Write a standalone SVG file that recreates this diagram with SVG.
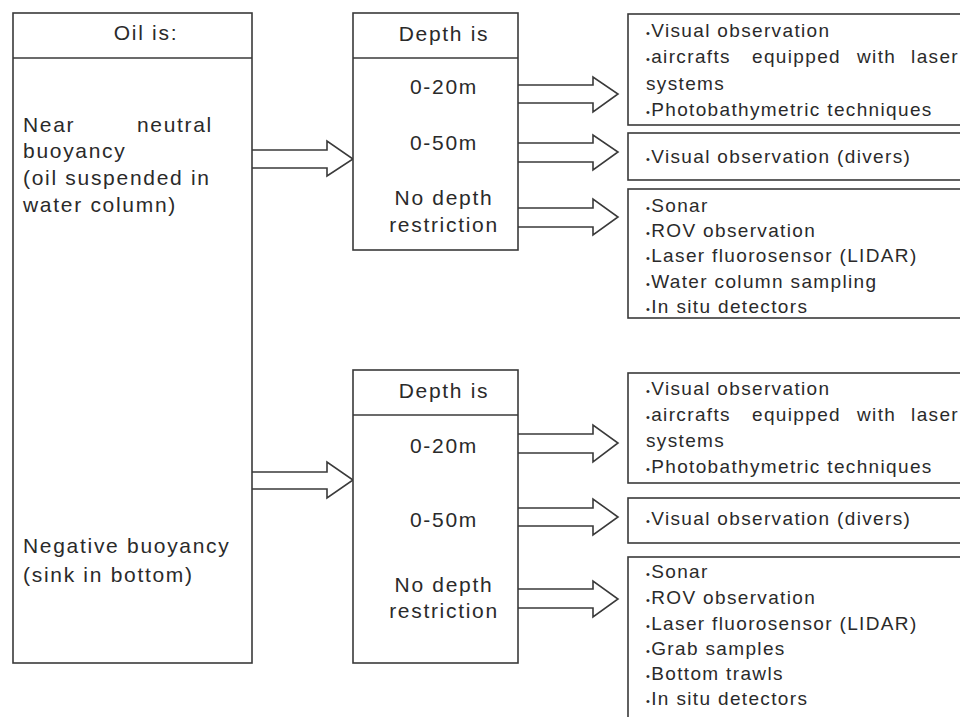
<svg xmlns="http://www.w3.org/2000/svg" width="960" height="717" viewBox="0 0 960 717">
  <style>
    .box { fill: #fff; stroke: #3a3a3a; stroke-width: 1.6; }
    .div { stroke: #3a3a3a; stroke-width: 1.6; }
    .arrow { fill: #fff; stroke: #3a3a3a; stroke-width: 1.6; stroke-linejoin: miter; }
    text { font-family: "Liberation Sans", Arial, sans-serif; fill: #2a2a2a; }
    .lbl { font-size: 21px; letter-spacing: 1.7px; }
    .mid { text-anchor: middle; }
    .end { text-anchor: end; }
    .item { font-size: 19px; letter-spacing: 1.35px; }
    .b { font-size: 11px; }
  </style>
  <rect width="960" height="717" fill="#fff"/>

  <!-- connectors: block arrows -->
  <g id="connectors">
    <path class="arrow" d="M252,150 H327 V141 L353,159 L327,176 V168 H252"/>
    <path class="arrow" d="M518,85 H593 V77 L618,94 L593,112 V103 H518"/>
    <path class="arrow" d="M518,143 H593 V135 L618,152 L593,170 V162 H518"/>
    <path class="arrow" d="M518,208 H593 V199 L618,217 L593,235 V227 H518"/>
    <path class="arrow" d="M252,472 H327 V462 L353,480 L327,498 V489 H252"/>
    <path class="arrow" d="M518,434 H593 V425 L618,443 L593,462 V453 H518"/>
    <path class="arrow" d="M518,508 H593 V499 L618,517 L593,535 V526 H518"/>
    <path class="arrow" d="M518,589 H593 V581 L618,599 L593,617 V608 H518"/>
  </g>

  <!-- oil state -->
  <g id="oil">
    <rect class="box" x="13" y="13" width="239" height="650"/>
    <line class="div" x1="13" y1="58" x2="252" y2="58"/>
    <text class="lbl mid" x="146" y="40">Oil is:</text>
    <text class="lbl" x="23" y="132">Near</text>
    <text class="lbl end" x="213" y="132">neutral</text>
    <text class="lbl" x="23" y="158">buoyancy</text>
    <text class="lbl" x="23" y="185">(oil suspended in</text>
    <text class="lbl" x="23" y="212">water column)</text>
    <text class="lbl" x="23" y="553">Negative buoyancy</text>
    <text class="lbl" x="23" y="582">(sink in bottom)</text>
  </g>

  <!-- depth, near neutral buoyancy -->
  <g id="depth1">
    <rect class="box" x="353" y="13" width="165" height="237"/>
    <line class="div" x1="353" y1="58" x2="518" y2="58"/>
    <text class="lbl mid" x="444" y="41">Depth is</text>
    <text class="lbl mid" x="444" y="94">0-20m</text>
    <text class="lbl mid" x="444" y="150">0-50m</text>
    <text class="lbl mid" x="444" y="205">No depth</text>
    <text class="lbl mid" x="444" y="232">restriction</text>
  </g>

  <!-- depth, negative buoyancy -->
  <g id="depth2">
    <rect class="box" x="353" y="370" width="165" height="293"/>
    <line class="div" x1="353" y1="415" x2="518" y2="415"/>
    <text class="lbl mid" x="444" y="398">Depth is</text>
    <text class="lbl mid" x="444" y="453">0-20m</text>
    <text class="lbl mid" x="444" y="527">0-50m</text>
    <text class="lbl mid" x="444" y="592">No depth</text>
    <text class="lbl mid" x="444" y="618">restriction</text>
  </g>

  <!-- methods, near neutral buoyancy -->
  <g id="methods1a">
    <rect class="box" x="628" y="14" width="340" height="111"/>
    <text class="item" x="646" y="37"><tspan class="b">•</tspan>Visual observation</text>
    <text class="item" x="646" y="63"><tspan class="b">•</tspan>aircrafts</text>
    <text class="item" x="752" y="63">equipped</text>
    <text class="item" x="857" y="63">with</text>
    <text class="item end" x="959" y="63">laser</text>
    <text class="item" x="646" y="90">systems</text>
    <text class="item" x="646" y="116"><tspan class="b">•</tspan>Photobathymetric techniques</text>
  </g>
  <g id="methods1b">
    <rect class="box" x="628" y="133" width="340" height="47"/>
    <text class="item" x="646" y="163"><tspan class="b">•</tspan>Visual observation (divers)</text>
  </g>
  <g id="methods1c">
    <rect class="box" x="628" y="189" width="340" height="129"/>
    <text class="item" x="646" y="212"><tspan class="b">•</tspan>Sonar</text>
    <text class="item" x="646" y="237"><tspan class="b">•</tspan>ROV observation</text>
    <text class="item" x="646" y="262"><tspan class="b">•</tspan>Laser fluorosensor (LIDAR)</text>
    <text class="item" x="646" y="288"><tspan class="b">•</tspan>Water column sampling</text>
    <text class="item" x="646" y="313"><tspan class="b">•</tspan>In situ detectors</text>
  </g>

  <!-- methods, negative buoyancy -->
  <g id="methods2a">
    <rect class="box" x="628" y="373" width="340" height="110"/>
    <text class="item" x="646" y="395"><tspan class="b">•</tspan>Visual observation</text>
    <text class="item" x="646" y="421"><tspan class="b">•</tspan>aircrafts</text>
    <text class="item" x="752" y="421">equipped</text>
    <text class="item" x="857" y="421">with</text>
    <text class="item end" x="959" y="421">laser</text>
    <text class="item" x="646" y="447">systems</text>
    <text class="item" x="646" y="473"><tspan class="b">•</tspan>Photobathymetric techniques</text>
  </g>
  <g id="methods2b">
    <rect class="box" x="628" y="498" width="340" height="45"/>
    <text class="item" x="646" y="525"><tspan class="b">•</tspan>Visual observation (divers)</text>
  </g>
  <g id="methods2c">
    <rect class="box" x="628" y="557" width="340" height="170"/>
    <text class="item" x="646" y="578"><tspan class="b">•</tspan>Sonar</text>
    <text class="item" x="646" y="604"><tspan class="b">•</tspan>ROV observation</text>
    <text class="item" x="646" y="630"><tspan class="b">•</tspan>Laser fluorosensor (LIDAR)</text>
    <text class="item" x="646" y="655"><tspan class="b">•</tspan>Grab samples</text>
    <text class="item" x="646" y="680"><tspan class="b">•</tspan>Bottom trawls</text>
    <text class="item" x="646" y="705"><tspan class="b">•</tspan>In situ detectors</text>
  </g>
</svg>
